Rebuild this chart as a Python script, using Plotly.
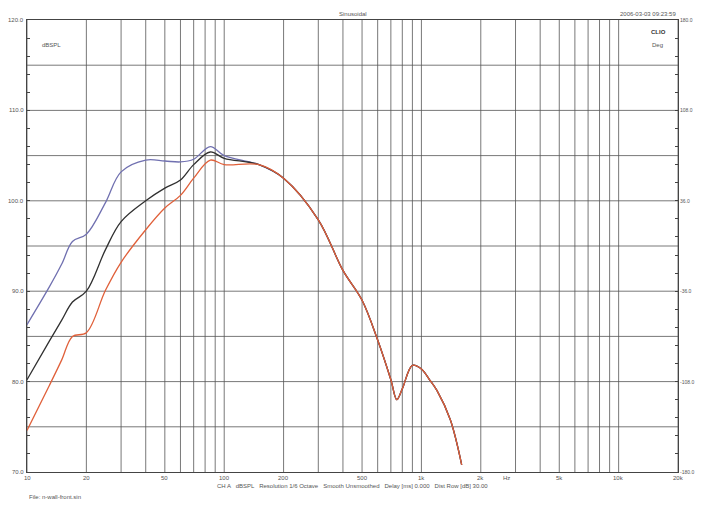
import plotly.graph_objects as go
import math

freq_hi = [150, 200, 300, 400, 500, 600, 700, 750, 800, 900, 1000, 1100, 1200, 1400, 1600]
common_hi = [104.0, 102.5, 97.9, 92.3, 89.0, 84.6, 80.2, 78.0, 79.2, 81.8, 81.4, 80.2, 79.0, 75.8, 70.8]

freq_lo = [10, 13, 15, 17, 20, 25, 30, 40, 50, 60, 70, 85, 100]
blue_lo = [86.3, 90.5, 93.0, 95.5, 96.3, 99.8, 103.2, 104.5, 104.4, 104.3, 104.6, 106.0, 105.0]
black_lo = [80.2, 84.5, 86.8, 88.8, 90.0, 94.6, 97.7, 100.0, 101.4, 102.3, 104.0, 105.4, 104.7]
red_lo = [74.6, 79.6, 82.4, 85.0, 85.4, 90.1, 93.2, 96.8, 99.2, 100.6, 102.5, 104.5, 104.0]

x_ticks = [10, 20, 50, 100, 200, 500, 1000, 2000, 5000, 10000, 20000]
x_labels = ["10", "20", "50", "100", "200", "500", "1k", "2k", "5k", "10k", "20k"]
y_ticks = [70, 80, 90, 100, 110, 120]
y_labels = ["70.0", "80.0", "90.0", "100.0", "110.0", "120.0"]
deg_labels = ["-180.0", "-108.0", "-36.0", "36.0", "108.0", "180.0"]

grid_x = [v * m for m in (10, 100, 1000) for v in range(1, 10)] + [10000, 20000]
grid_x = [g for g in grid_x if 10 <= g <= 20000]

fig = go.Figure()
series = [("#7070b0", blue_lo), ("#303030", black_lo), ("#e0603a", red_lo)]
for col, lo in series:
    fig.add_trace(go.Scatter(x=freq_lo + freq_hi, y=lo + common_hi, mode="lines",
                             line=dict(color=col, width=1.3, shape="spline"), showlegend=False))

shapes = []
for g in grid_x:
    shapes.append(dict(type="line", xref="x", yref="paper", x0=g, x1=g, y0=0, y1=1,
                       line=dict(color="#555", width=0.8), layer="below"))
for v in range(75, 120, 5):
    shapes.append(dict(type="line", xref="paper", yref="y", x0=0, x1=1, y0=v, y1=v,
                       line=dict(color="#555", width=0.8), layer="below"))

F = dict(size=6, color="#555")
ann = []
for t, l in zip(y_ticks, y_labels):
    ann.append(dict(x=0, y=t, xref="paper", yref="y", text=l, showarrow=False, xanchor="right", xshift=-1, font=F))
for t, l in zip(y_ticks, deg_labels):
    ann.append(dict(x=1, y=t, xref="paper", yref="y", text=l, showarrow=False, xanchor="left", xshift=0, font=dict(size=5, color="#555")))
for t, l in zip(x_ticks, x_labels):
    ann.append(dict(x=math.log10(t), y=0, xref="x", yref="paper", text=l, showarrow=False, yanchor="top", yshift=-1, font=F))
extra = [
    (0.5, 1, "Sinusoidal", "center", "bottom"),
    (1, 1, "2006-03-03 09:23:59", "right", "bottom"),
]
for x, y, t, xa, ya in extra:
    ann.append(dict(x=x, y=y, xref="paper", yref="paper", text=t, showarrow=False, xanchor=xa, yanchor=ya, yshift=1, font=F))
ann.append(dict(x=0.02, y=0.955, xref="paper", yref="paper", text="dBSPL", showarrow=False, font=F))
ann.append(dict(x=0.98, y=0.955, xref="paper", yref="paper", text="Deg", showarrow=False, font=F))
ann.append(dict(x=0.985, y=0.985, xref="paper", yref="paper", text="<b>CLIO</b>", showarrow=False, font=dict(size=6, color="#333")))
ann.append(dict(x=math.log10(2700), y=0, xref="x", yref="paper", text="Hz", showarrow=False, yanchor="top", yshift=-1, font=F))
ann.append(dict(x=0.5, y=0, xref="paper", yref="paper", text="CH A   dBSPL   Resolution 1/6 Octave   Smooth Unsmoothed   Delay [ms] 0.000   Dist Row [dB] 30.00", showarrow=False, yanchor="top", yshift=-9, font=F))
ann.append(dict(x=0, y=0, xref="paper", yref="paper", text="File: n-wall-front.sin", showarrow=False, xanchor="left", yanchor="top", yshift=-20, font=F))

fig.update_layout(
    width=689, height=492, margin=dict(l=19, r=19, t=12, b=28),
    paper_bgcolor="white", plot_bgcolor="white", font=dict(family="Liberation Sans"),
    xaxis=dict(type="log", range=[1, 4.30103], showgrid=False, showticklabels=False, ticks="",
               showline=True, linecolor="#444", mirror=True, zeroline=False),
    yaxis=dict(range=[70, 120], showgrid=False, showticklabels=False, ticks="inside", dtick=2, ticklen=3,
               tickcolor="#444", showline=True, linecolor="#444", mirror="allticks", zeroline=False),
    shapes=shapes, annotations=ann,
)
fig.write_html("out.html")
